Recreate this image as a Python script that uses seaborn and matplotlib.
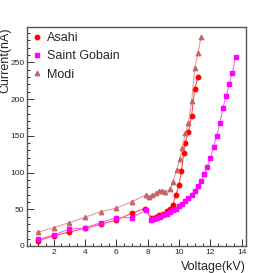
import numpy as np
import pandas as pd
import matplotlib
matplotlib.use("Agg")
import matplotlib.pyplot as plt
from matplotlib.lines import Line2D
from matplotlib.ticker import MultipleLocator
import seaborn as sns

# data
asahi_v = [1, 2, 3, 4, 5, 6, 7, 7.8, 8.25, 8.5, 8.75, 9.0, 9.25, 9.45, 9.6, 9.8, 10.0, 10.15, 10.3, 10.38, 10.6, 10.8, 11.0, 11.2]
asahi_i = [6.8, 14, 19, 24, 29.6, 35.4, 44.5, 51, 38.6, 40, 42, 44, 47, 50, 56, 70, 83, 102, 126, 140, 155, 177, 214, 230]

sg_v = [1, 2, 3, 4, 5, 6, 7, 7.9, 8.2, 8.4, 8.6, 8.8, 9.0, 9.2, 9.4, 9.6, 9.8, 10.0, 10.2, 10.4, 10.6,
        10.8, 11.0, 11.2, 11.4, 11.6, 11.8, 12.0, 12.2, 12.4, 12.6, 12.8, 13.0, 13.2, 13.4, 13.6]
sg_i = [9, 15, 23, 24.5, 31.8, 38.6, 38.6, 49, 36, 37, 38.5, 40, 42, 44, 46, 48.5, 51, 54, 57, 61, 65,
        70, 75, 81, 89, 98, 108, 120, 135, 150, 167, 188, 204, 220, 236, 257]

modi_v = [1, 2, 3, 4, 5, 6, 7, 7.9, 8.1, 8.3, 8.5, 8.7, 8.9, 9.1, 9.45, 9.6, 9.85, 10.05, 10.2, 10.4, 10.6, 10.8, 11.0, 11.2, 11.4]
modi_i = [18.6, 25, 31.8, 39, 46.8, 51.3, 60.4, 69.5, 66, 69.5, 72, 75, 75.5, 74, 77, 87, 104, 118, 133, 154, 167, 197, 242, 262, 284]

sns.set_style("white")
plt.rcParams['font.family'] = ['Liberation Sans', 'DejaVu Sans']

fig = plt.figure(figsize=(2.73, 2.73), dpi=100)
ax = fig.add_axes([0.1, 0.099, 0.8, 0.802])

series = [
    ("Asahi", asahi_v, asahi_i, "#ff0000", "#ff5050", "o", 3.2),
    ("Saint Gobain", sg_v, sg_i, "#ff00ff", "#ff60ff", "s", 3.0),
    ("Modi", modi_v, modi_i, "#c86464", "#e89a9a", "^", 3.2),
]
handles = []
for name, v, i, mc, lc, mk, ms in series:
    df = pd.DataFrame({"v": v, "i": i})
    sns.lineplot(data=df, x="v", y="i", sort=False, color=lc, lw=0.8, ax=ax)
    ax.plot(df["v"], df["i"], ls="none", marker=mk, ms=ms, color=mc, mec=mc)
    handles.append(Line2D([], [], ls="none", marker=mk, ms=ms, color=mc))

ax.set_xlim(0.32, 14.25)
ax.set_ylim(0, 298)
ax.xaxis.set_major_locator(MultipleLocator(2))
ax.xaxis.set_minor_locator(MultipleLocator(0.5))
ax.yaxis.set_major_locator(MultipleLocator(50))
ax.yaxis.set_minor_locator(MultipleLocator(10))
ax.tick_params(which="both", direction="in", top=False, right=False, bottom=True, left=True,
               color="#333333", width=0.7)
ax.tick_params(which="major", length=5, labelsize=6, pad=2)
ax.tick_params(which="minor", length=2.5)
for s in ax.spines.values():
    s.set_color("#555555")
    s.set_linewidth(1.0)

ax.set_xlabel("Voltage(kV)", fontsize=9, loc="right")
ax.xaxis.set_label_coords(1.0, -0.07)
ax.set_ylabel("Current(nA)", fontsize=9, loc="top")
ax.yaxis.set_label_coords(-0.075, 1.0)

ax.legend(handles, ["Asahi", "Saint Gobain", "Modi"], loc="upper left", frameon=False,
          fontsize=9, handlelength=0.8, handletextpad=0.4, labelspacing=0.5,
          borderaxespad=0.0, bbox_to_anchor=(0.0, 1.0))

fig.savefig("out.png", dpi=100)
